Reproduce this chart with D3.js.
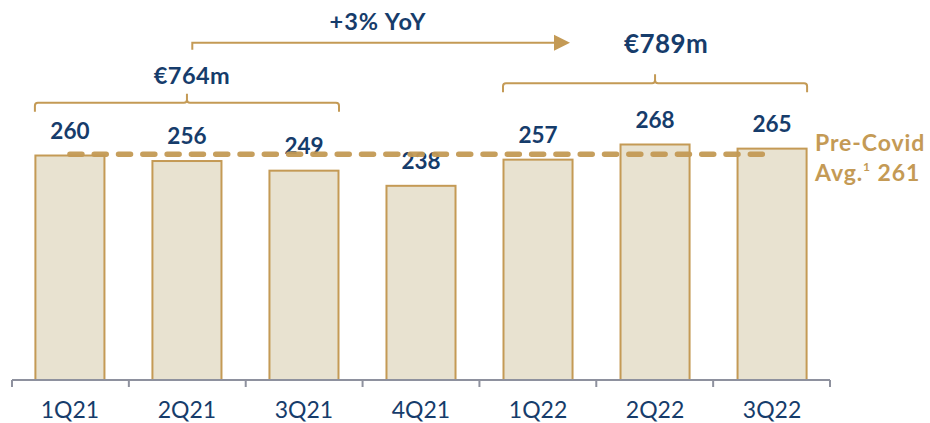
<!DOCTYPE html>
<html>
<head>
<meta charset="utf-8">
<script src="https://cdn.jsdelivr.net/npm/d3@7"></script>
<style>
  body { margin: 0; background: #fff; }
  svg { display: block; font-family: "Century Gothic", Lato, "Noto Sans", sans-serif; }
</style>
</head>
<body>
<div id="chart"></div>
<script>
const quarters = ['1Q21', '2Q21', '3Q21', '4Q21', '1Q22', '2Q22', '3Q22'];
const revenue = [260, 256, 249, 238, 257, 268, 265];
const preCovidAvg = 261;
const groupTotals = [
  { label: '€764m', from: '1Q21', to: '3Q21' },
  { label: '€789m', from: '1Q22', to: '3Q22' }
];
const growthLabel = '+3% YoY';

const width = 930;
const height = 423;
const gold = '#c49a55';
const navy = '#163c6b';

const svg = d3.select('#chart')
  .append('svg')
  .attr('width', width)
  .attr('height', height);

const x = d3.scaleBand()
  .domain(quarters)
  .range([12, 830])
  .paddingInner(0.41)
  .paddingOuter(0.2);

// axis does not start at zero in the original slide
const y = d3.scaleLinear()
  .domain([97, 268])
  .range([380, 144.5]);

// bars
svg.append('g')
  .selectAll('rect')
  .data(quarters)
  .join('rect')
  .attr('x', d => x(d))
  .attr('y', (d, i) => y(revenue[i]))
  .attr('width', x.bandwidth())
  .attr('height', (d, i) => y.range()[0] - y(revenue[i]))
  .attr('fill', '#e8e2d0')
  .attr('stroke', gold)
  .attr('stroke-width', 2);

// x axis with ticks between categories
const axisG = svg.append('g').attr('transform', 'translate(0,380)');
axisG.append('line')
  .attr('x1', 12).attr('x2', 830)
  .attr('stroke', '#8e919e').attr('stroke-width', 2);
const bounds = d3.range(quarters.length + 1).map(i => 12 + i * (818 / quarters.length));
axisG.selectAll('.tick-mark')
  .data(bounds)
  .join('line')
  .attr('class', 'tick-mark')
  .attr('x1', d => d).attr('x2', d => d)
  .attr('y1', 0).attr('y2', 7)
  .attr('stroke', '#8e919e').attr('stroke-width', 2);

axisG.selectAll('.cat')
  .data(quarters)
  .join('text')
  .attr('class', 'cat')
  .attr('x', d => x(d) + x.bandwidth() / 2)
  .attr('y', 38)
  .attr('text-anchor', 'middle')
  .attr('fill', navy)
  .attr('font-size', 23)
  .text(d => d);

// value labels
svg.append('g')
  .selectAll('text')
  .data(quarters)
  .join('text')
  .attr('x', d => x(d) + x.bandwidth() / 2)
  .attr('y', (d, i) => y(revenue[i]) - 17)
  .attr('text-anchor', 'middle')
  .attr('fill', navy)
  .attr('font-weight', 'bold')
  .attr('font-size', 22.5)
  .text((d, i) => revenue[i]);

// pre-covid average line
svg.append('line')
  .attr('x1', x(quarters[0]) + x.bandwidth() / 2)
  .attr('x2', x(quarters[quarters.length - 1]) + x.bandwidth() / 2 - 7)
  .attr('y1', y(preCovidAvg))
  .attr('y2', y(preCovidAvg))
  .attr('stroke', gold)
  .attr('stroke-width', 5.5)
  .attr('stroke-linecap', 'round')
  .attr('stroke-dasharray', '12 12.3')
  .attr('opacity', 0.95);

const avgText = svg.append('text')
  .attr('x', 815)
  .attr('y', y(preCovidAvg) - 3)
  .attr('fill', gold)
  .attr('font-weight', 'bold')
  .attr('font-size', 23)
  .attr('letter-spacing', 0.9);
avgText.append('tspan').text('Pre-Covid');
avgText.append('tspan').attr('x', 815).attr('dy', 29.5).text('Avg.');
avgText.append('tspan').attr('font-size', 12).attr('dy', -10).text('1');
avgText.append('tspan').attr('dy', 10).text(' ' + preCovidAvg);

// brackets over the two 9-month totals
const bracketY = [102.7, 83.3];
groupTotals.forEach((g, i) => {
  const x0 = x(g.from) - 0.5;
  const x1 = x(g.to) + x.bandwidth() + 0.5;
  const mid = (x0 + x1) / 2;
  const by = bracketY[i];
  const r = 3;
  const path = d3.path();
  path.moveTo(x0, by + 9);
  path.lineTo(x0, by + r);
  path.quadraticCurveTo(x0, by, x0 + r, by);
  path.lineTo(mid - r, by);
  path.quadraticCurveTo(mid, by, mid, by - r);
  path.lineTo(mid, by - 9);
  path.moveTo(mid, by - r);
  path.quadraticCurveTo(mid, by, mid + r, by);
  path.lineTo(x1 - r, by);
  path.quadraticCurveTo(x1, by, x1, by + r);
  path.lineTo(x1, by + 9);
  svg.append('path')
    .attr('d', path.toString())
    .attr('fill', 'none')
    .attr('stroke', gold)
    .attr('stroke-width', 2);

  svg.append('text')
    .attr('x', mid + (i === 0 ? 5 : 11))
    .attr('y', by - (i === 0 ? 19 : 30))
    .attr('text-anchor', 'middle')
    .attr('fill', navy)
    .attr('font-weight', 'bold')
    .attr('font-size', i === 0 ? 23.5 : 26)
    .attr('letter-spacing', 0.4)
    .text(g.label);
});

// YoY arrow
const arrowY = 42.7;
const arrowX0 = 192.3;
const arrowX1 = 570;
svg.append('path')
  .attr('d', `M${arrowX0},${arrowY + 7}V${arrowY}H${arrowX1 - 15}`)
  .attr('fill', 'none')
  .attr('stroke', gold)
  .attr('stroke-width', 2);
svg.append('path')
  .attr('d', `M${arrowX1 - 16},${arrowY - 8}L${arrowX1},${arrowY}L${arrowX1 - 16},${arrowY + 8}Z`)
  .attr('fill', gold);
svg.append('text')
  .attr('x', 378)
  .attr('y', 30)
  .attr('text-anchor', 'middle')
  .attr('fill', navy)
  .attr('font-weight', 'bold')
  .attr('font-size', 23.5)
  .attr('letter-spacing', 1)
  .text(growthLabel);
</script>
</body>
</html>
